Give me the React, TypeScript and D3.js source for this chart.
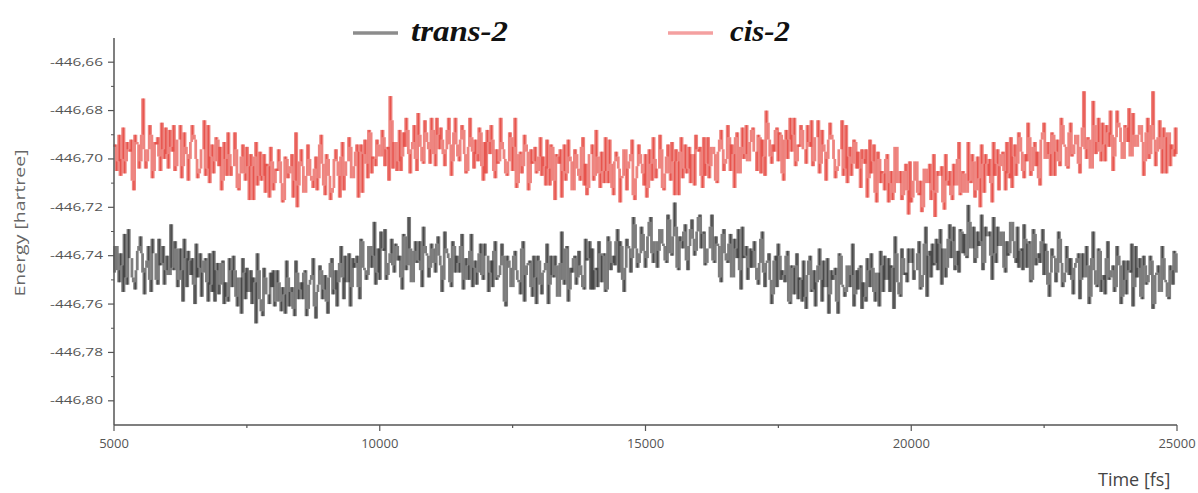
import React from 'react';
import * as d3 from 'd3';

// MD trajectory, energy sampled every 25 fs from 5000 to 25000 fs
const timeStart = 5000;
const timeEnd = 25000;
const timeStep = 25;

const seriesNames = ['trans-2', 'cis-2'];
const timeTicks = [5000, 10000, 15000, 20000, 25000];
const timeMinorTicks = [7500, 12500, 17500, 22500];
const energyTicks = [-446.8, -446.78, -446.76, -446.74, -446.72, -446.7, -446.68, -446.66];
const energyMinorTicks = [-446.79, -446.77, -446.75, -446.73, -446.71, -446.69, -446.67];

const cisEnergy = [
  -446.695, -446.694, -446.705, -446.701, -446.690, -446.707, -446.700, -446.687, -446.706, -446.701, -446.693, -446.696, -446.697, -446.692, -446.709, -446.713, -446.690, -446.693, -446.694, -446.704,
  -446.701, -446.690, -446.675, -446.696, -446.704, -446.701, -446.696, -446.686, -446.690, -446.708, -446.705, -446.693, -446.694, -446.691, -446.699, -446.705, -446.685, -446.696, -446.700, -446.687,
  -446.698, -446.704, -446.688, -446.695, -446.697, -446.686, -446.705, -446.703, -446.692, -446.692, -446.686, -446.708, -446.703, -446.689, -446.695, -446.698, -446.709, -446.700, -446.693, -446.686,
  -446.690, -446.692, -446.700, -446.708, -446.706, -446.704, -446.696, -446.696, -446.684, -446.707, -446.704, -446.686, -446.710, -446.699, -446.694, -446.706, -446.701, -446.691, -446.692, -446.703,
  -446.695, -446.713, -446.709, -446.693, -446.700, -446.707, -446.689, -446.698, -446.707, -446.703, -446.703, -446.689, -446.696, -446.712, -446.713, -446.706, -446.699, -446.694, -446.706, -446.709,
  -446.695, -446.703, -446.717, -446.698, -446.703, -446.717, -446.699, -446.693, -446.711, -446.707, -446.697, -446.709, -446.707, -446.698, -446.714, -446.702, -446.703, -446.716, -446.695, -446.701,
  -446.713, -446.710, -446.704, -446.705, -446.696, -446.701, -446.710, -446.718, -446.717, -446.699, -446.700, -446.708, -446.706, -446.703, -446.698, -446.716, -446.709, -446.689, -446.720, -446.711,
  -446.701, -446.696, -446.703, -446.714, -446.714, -446.707, -446.694, -446.700, -446.707, -446.709, -446.712, -446.704, -446.699, -446.713, -446.708, -446.694, -446.690, -446.702, -446.711, -446.715,
  -446.698, -446.700, -446.707, -446.717, -446.714, -446.712, -446.700, -446.696, -446.701, -446.707, -446.716, -446.699, -446.693, -446.713, -446.707, -446.701, -446.701, -446.691, -446.695, -446.708,
  -446.708, -446.703, -446.697, -446.694, -446.716, -446.697, -446.694, -446.714, -446.698, -446.692, -446.702, -446.708, -446.688, -446.689, -446.706, -446.699, -446.700, -446.703, -446.692, -446.694,
  -446.699, -446.699, -446.688, -446.691, -446.703, -446.696, -446.695, -446.709, -446.674, -446.684, -446.704, -446.693, -446.693, -446.705, -446.701, -446.688, -446.705, -446.699, -446.689, -446.695,
  -446.683, -446.688, -446.698, -446.706, -446.696, -446.693, -446.686, -446.700, -446.705, -446.681, -446.690, -446.695, -446.701, -446.702, -446.684, -446.689, -446.693, -446.696, -446.702, -446.683,
  -446.688, -446.698, -446.703, -446.683, -446.690, -446.696, -446.687, -446.692, -446.698, -446.703, -446.696, -446.688, -446.683, -446.694, -446.707, -446.701, -446.689, -446.683, -446.694, -446.699,
  -446.701, -446.692, -446.686, -446.688, -446.698, -446.706, -446.705, -446.695, -446.683, -446.691, -446.697, -446.704, -446.692, -446.698, -446.701, -446.687, -446.689, -446.703, -446.709, -446.693,
  -446.706, -446.688, -446.693, -446.698, -446.686, -446.692, -446.705, -446.708, -446.696, -446.702, -446.701, -446.683, -446.693, -446.696, -446.700, -446.706, -446.707, -446.701, -446.689, -446.691,
  -446.705, -446.695, -446.683, -446.712, -446.710, -446.698, -446.697, -446.706, -446.703, -446.690, -446.694, -446.697, -446.713, -446.710, -446.696, -446.702, -446.701, -446.695, -446.706, -446.705,
  -446.699, -446.691, -446.707, -446.699, -446.703, -446.711, -446.692, -446.704, -446.711, -446.694, -446.695, -446.709, -446.717, -446.698, -446.699, -446.702, -446.696, -446.716, -446.705, -446.694,
  -446.709, -446.706, -446.692, -446.699, -446.701, -446.713, -446.713, -446.696, -446.698, -446.704, -446.707, -446.709, -446.695, -446.691, -446.711, -446.702, -446.715, -446.712, -446.698, -446.698,
  -446.694, -446.709, -446.707, -446.688, -446.699, -446.706, -446.712, -446.697, -446.705, -446.710, -446.691, -446.705, -446.710, -446.692, -446.702, -446.712, -446.715, -446.701, -446.697, -446.699,
  -446.704, -446.718, -446.708, -446.707, -446.696, -446.696, -446.713, -446.704, -446.701, -446.698, -446.692, -446.715, -446.717, -446.708, -446.703, -446.694, -446.698, -446.702, -446.706, -446.711,
  -446.698, -446.716, -446.712, -446.696, -446.702, -446.709, -446.691, -446.700, -446.708, -446.704, -446.704, -446.690, -446.696, -446.712, -446.713, -446.706, -446.699, -446.694, -446.706, -446.709,
  -446.693, -446.701, -446.715, -446.696, -446.701, -446.715, -446.697, -446.691, -446.708, -446.704, -446.694, -446.706, -446.704, -446.695, -446.710, -446.698, -446.698, -446.711, -446.690, -446.696,
  -446.697, -446.695, -446.707, -446.712, -446.691, -446.707, -446.702, -446.691, -446.708, -446.703, -446.695, -446.695, -446.698, -446.709, -446.710, -446.697, -446.692, -446.688, -446.696, -446.705,
  -446.702, -446.700, -446.686, -446.691, -446.705, -446.694, -446.698, -446.712, -446.691, -446.689, -446.706, -446.706, -446.695, -446.687, -446.700, -446.698, -446.686, -446.701, -446.701, -446.693,
  -446.688, -446.687, -446.697, -446.697, -446.705, -446.690, -446.691, -446.706, -446.692, -446.699, -446.707, -446.680, -446.685, -446.692, -446.699, -446.702, -446.694, -446.697, -446.688, -446.687,
  -446.701, -446.689, -446.690, -446.706, -446.709, -446.692, -446.688, -446.700, -446.692, -446.683, -446.697, -446.690, -446.683, -446.703, -446.701, -446.694, -446.695, -446.686, -446.688, -446.696,
  -446.696, -446.702, -446.686, -446.693, -446.695, -446.684, -446.703, -446.701, -446.691, -446.691, -446.684, -446.706, -446.702, -446.688, -446.694, -446.697, -446.709, -446.700, -446.692, -446.685,
  -446.690, -446.692, -446.700, -446.708, -446.705, -446.703, -446.696, -446.696, -446.684, -446.707, -446.704, -446.686, -446.710, -446.699, -446.695, -446.707, -446.702, -446.692, -446.693, -446.704,
  -446.697, -446.704, -446.712, -446.696, -446.700, -446.702, -446.696, -446.716, -446.708, -446.692, -446.706, -446.701, -446.694, -446.714, -446.718, -446.697, -446.700, -446.710, -446.705, -446.706,
  -446.713, -446.700, -446.698, -446.718, -446.710, -446.705, -446.717, -446.714, -446.695, -446.695, -446.710, -446.710, -446.705, -446.717, -446.715, -446.705, -446.702, -446.713, -446.723, -446.701,
  -446.718, -446.716, -446.709, -446.701, -446.701, -446.714, -446.715, -446.709, -446.722, -446.720, -446.704, -446.704, -446.710, -446.710, -446.702, -446.717, -446.713, -446.698, -446.724, -446.714,
  -446.705, -446.707, -446.707, -446.703, -446.718, -446.721, -446.698, -446.709, -446.711, -446.705, -446.715, -446.717, -446.702, -446.711, -446.711, -446.700, -446.693, -446.715, -446.714, -446.705,
  -446.706, -446.714, -446.714, -446.693, -446.709, -446.710, -446.698, -446.701, -446.716, -446.713, -446.699, -446.708, -446.720, -446.694, -446.702, -446.714, -446.698, -446.702, -446.707, -446.700,
  -446.710, -446.718, -446.693, -446.707, -446.702, -446.696, -446.713, -446.703, -446.698, -446.697, -446.705, -446.713, -446.693, -446.706, -446.708, -446.691, -446.712, -446.699, -446.694, -446.707,
  -446.702, -446.689, -446.691, -446.697, -446.705, -446.708, -446.698, -446.701, -446.685, -446.691, -446.707, -446.705, -446.695, -446.693, -446.703, -446.697, -446.708, -446.711, -446.692, -446.689,
  -446.685, -446.700, -446.700, -446.693, -446.698, -446.707, -446.689, -446.690, -446.707, -446.697, -446.692, -446.701, -446.703, -446.683, -446.686, -446.694, -446.695, -446.703, -446.704, -446.689,
  -446.685, -446.699, -446.698, -446.694, -446.690, -446.690, -446.702, -446.706, -446.695, -446.687, -446.672, -446.696, -446.700, -446.691, -446.692, -446.704, -446.704, -446.676, -446.686, -446.698,
  -446.693, -446.683, -446.697, -446.701, -446.685, -446.694, -446.701, -446.686, -446.689, -446.695, -446.680, -446.690, -446.705, -446.699, -446.691, -446.680, -446.685, -446.687, -446.693, -446.700,
  -446.700, -446.686, -446.687, -446.693, -446.679, -446.699, -446.699, -446.681, -446.690, -446.695, -446.695, -446.690, -446.686, -446.686, -446.693, -446.707, -446.701, -446.689, -446.683, -446.700,
  -446.698, -446.686, -446.672, -446.692, -446.703, -446.697, -446.691, -446.684, -446.696, -446.706, -446.687, -446.691, -446.706, -446.689, -446.689, -446.703, -446.694, -446.696, -446.699, -446.687,
  -446.698,
];

const transEnergy = [
  -446.747, -446.736, -446.736, -446.746, -446.751, -446.739, -446.744, -446.755, -446.731, -446.749, -446.752, -446.729, -446.741, -446.741, -446.749, -446.751, -446.754, -446.746, -446.738, -446.736,
  -446.732, -446.739, -446.747, -446.756, -446.745, -446.742, -446.736, -446.750, -446.755, -446.733, -446.739, -446.739, -446.750, -446.752, -446.733, -446.744, -446.743, -446.736, -446.752, -446.746,
  -446.740, -446.748, -446.748, -446.727, -446.745, -446.746, -446.734, -446.737, -446.753, -446.750, -446.737, -446.746, -446.759, -446.733, -446.741, -446.753, -446.738, -446.742, -446.748, -446.741,
  -446.752, -446.760, -446.735, -446.749, -446.745, -446.739, -446.757, -446.747, -446.742, -446.741, -446.751, -446.759, -446.739, -446.752, -446.755, -446.738, -446.759, -446.746, -446.743, -446.756,
  -446.752, -446.743, -446.742, -446.760, -446.751, -446.757, -446.759, -446.741, -446.746, -446.753, -446.740, -446.746, -446.757, -446.761, -446.749, -446.749, -446.764, -446.741, -446.747, -446.758,
  -446.745, -446.755, -446.755, -446.746, -446.760, -446.749, -446.751, -446.768, -446.739, -446.746, -446.758, -446.763, -446.765, -446.745, -446.749, -446.756, -446.756, -446.760, -446.747, -446.753,
  -446.746, -446.761, -446.759, -446.746, -446.751, -446.759, -446.763, -446.753, -446.756, -446.764, -446.742, -446.749, -446.761, -446.755, -446.753, -446.762, -446.765, -446.742, -446.747, -446.758,
  -446.754, -446.751, -446.758, -446.747, -446.746, -446.765, -446.762, -446.752, -446.750, -446.748, -446.741, -446.761, -446.766, -446.755, -446.752, -446.744, -446.746, -446.758, -446.754, -446.748,
  -446.759, -446.764, -446.749, -446.743, -446.741, -446.756, -446.754, -446.746, -446.761, -446.751, -446.743, -446.736, -446.749, -446.758, -446.740, -446.751, -446.751, -446.739, -446.761, -446.753,
  -446.741, -446.745, -446.743, -446.740, -446.753, -446.758, -446.733, -446.734, -446.745, -446.746, -446.750, -446.748, -446.736, -446.736, -446.745, -446.740, -446.726, -446.752, -446.747, -446.737,
  -446.750, -446.730, -446.737, -446.738, -446.729, -446.750, -446.748, -446.743, -446.739, -446.733, -446.744, -446.747, -446.735, -446.736, -446.742, -446.740, -446.749, -446.754, -446.731, -446.732,
  -446.746, -446.744, -446.724, -446.737, -446.751, -446.751, -446.738, -446.734, -446.743, -446.742, -446.734, -446.746, -446.753, -446.728, -446.736, -446.739, -446.740, -446.749, -446.745, -446.735,
  -446.737, -446.743, -446.747, -446.735, -446.732, -446.740, -446.744, -446.755, -446.750, -446.730, -446.737, -446.739, -446.741, -446.751, -446.753, -446.734, -446.736, -446.747, -446.740, -446.743,
  -446.747, -446.736, -446.731, -446.754, -446.750, -446.741, -446.744, -446.750, -446.738, -446.731, -446.753, -446.745, -446.742, -446.752, -446.747, -446.739, -446.735, -446.748, -446.750, -446.735,
  -446.740, -446.740, -446.755, -446.747, -446.742, -446.753, -446.738, -446.734, -446.750, -446.749, -446.748, -446.744, -446.735, -446.740, -446.759, -446.761, -446.740, -446.742, -446.745, -446.753,
  -446.753, -446.740, -446.738, -446.746, -446.750, -446.751, -446.756, -446.737, -446.734, -446.759, -446.748, -446.744, -446.743, -446.742, -446.753, -446.757, -446.740, -446.749, -446.760, -446.740,
  -446.742, -446.752, -446.756, -446.747, -446.746, -446.743, -446.735, -446.760, -446.752, -446.740, -446.748, -446.749, -446.740, -446.744, -446.757, -446.757, -446.743, -446.730, -446.750, -446.752,
  -446.737, -446.736, -446.759, -446.754, -446.745, -446.747, -446.741, -446.740, -446.752, -446.749, -446.738, -446.744, -446.748, -446.753, -446.754, -446.733, -446.742, -446.741, -446.734, -446.754,
  -446.737, -446.754, -446.746, -446.745, -446.753, -446.734, -446.739, -446.751, -446.740, -446.739, -446.755, -446.754, -446.732, -446.734, -446.746, -446.743, -446.740, -446.744, -446.734, -446.729,
  -446.747, -446.734, -446.736, -446.750, -446.755, -446.745, -446.733, -446.736, -446.737, -446.747, -446.741, -446.724, -446.727, -446.737, -446.745, -446.743, -446.739, -446.728, -446.731, -446.738,
  -446.745, -446.741, -446.732, -446.726, -446.724, -446.739, -446.743, -446.734, -446.734, -446.745, -446.738, -446.729, -446.729, -446.735, -446.736, -446.742, -446.743, -446.723, -446.725, -446.739,
  -446.740, -446.732, -446.718, -446.728, -446.745, -446.746, -446.732, -446.734, -446.737, -446.730, -446.727, -446.742, -446.746, -446.736, -446.729, -446.725, -446.733, -446.740, -446.738, -446.730,
  -446.724, -446.723, -446.737, -446.731, -446.730, -446.744, -446.743, -446.737, -446.737, -446.728, -446.723, -446.742, -446.743, -446.732, -446.735, -446.736, -446.749, -446.751, -446.731, -446.729,
  -446.739, -446.742, -446.743, -446.735, -446.731, -446.749, -446.749, -446.733, -446.737, -446.741, -446.729, -446.746, -446.754, -446.728, -446.741, -446.740, -446.736, -446.750, -446.745, -446.737,
  -446.745, -446.738, -446.734, -446.745, -446.750, -446.752, -446.743, -446.733, -446.730, -446.747, -446.753, -446.743, -446.742, -446.739, -446.750, -446.760, -446.756, -446.742, -446.740, -446.753,
  -446.735, -446.740, -446.750, -446.746, -446.748, -446.751, -446.740, -446.738, -446.759, -446.760, -446.744, -446.745, -446.756, -446.744, -446.739, -446.758, -446.749, -446.750, -446.759, -446.742,
  -446.757, -446.762, -446.748, -446.742, -446.740, -446.755, -446.754, -446.746, -446.761, -446.751, -446.744, -446.737, -446.750, -446.759, -446.742, -446.753, -446.753, -446.741, -446.764, -446.756,
  -446.746, -446.750, -446.748, -446.745, -446.759, -446.764, -446.739, -446.740, -446.752, -446.753, -446.757, -446.755, -446.744, -446.744, -446.753, -446.748, -446.735, -446.761, -446.756, -446.746,
  -446.754, -446.745, -446.744, -446.762, -446.751, -446.757, -446.759, -446.741, -446.746, -446.753, -446.739, -446.745, -446.755, -446.759, -446.747, -446.747, -446.761, -446.738, -446.744, -446.755,
  -446.740, -446.750, -446.750, -446.741, -446.755, -446.744, -446.745, -446.762, -446.732, -446.739, -446.751, -446.756, -446.757, -446.737, -446.741, -446.748, -446.747, -446.751, -446.737, -446.743,
  -446.743, -446.737, -446.750, -446.746, -446.746, -446.739, -446.734, -446.754, -446.753, -446.748, -446.735, -446.728, -446.757, -446.740, -446.738, -446.749, -446.735, -446.744, -446.743, -446.733,
  -446.746, -446.735, -446.729, -446.752, -446.737, -446.737, -446.749, -446.745, -446.733, -446.727, -446.741, -446.734, -446.728, -446.746, -446.744, -446.738, -446.747, -446.729, -446.730, -446.739,
  -446.731, -446.740, -446.741, -446.719, -446.726, -446.737, -446.737, -446.728, -446.743, -446.741, -446.730, -446.736, -446.734, -446.723, -446.746, -446.743, -446.728, -446.732, -446.732, -446.730,
  -446.740, -446.750, -446.724, -446.739, -446.743, -446.728, -446.736, -446.736, -446.730, -446.730, -446.745, -446.747, -446.734, -446.740, -446.739, -446.726, -446.726, -446.734, -446.741, -446.743,
  -446.728, -446.745, -446.738, -446.737, -446.746, -446.727, -446.733, -446.745, -446.735, -446.734, -446.751, -446.750, -446.729, -446.731, -446.744, -446.741, -446.739, -446.743, -446.734, -446.729,
  -446.748, -446.735, -446.738, -446.752, -446.757, -446.747, -446.737, -446.740, -446.741, -446.751, -446.747, -446.730, -446.733, -446.743, -446.753, -446.751, -446.747, -446.736, -446.741, -446.748,
  -446.741, -446.750, -446.756, -446.745, -446.743, -446.741, -446.739, -446.758, -446.750, -446.739, -446.749, -446.749, -446.736, -446.744, -446.760, -446.757, -446.741, -446.730, -446.746, -446.752,
  -446.753, -446.737, -446.738, -446.755, -446.750, -446.748, -446.756, -446.741, -446.734, -446.750, -446.749, -446.746, -446.744, -446.755, -446.753, -446.736, -446.740, -446.744, -446.760, -446.757,
  -446.742, -446.750, -446.756, -446.742, -446.746, -446.747, -446.735, -446.761, -446.753, -446.736, -446.749, -446.745, -446.741, -446.757, -446.758, -446.740, -446.744, -446.752, -446.751, -446.748,
  -446.740, -446.742, -446.762, -446.760, -446.748, -446.747, -446.744, -446.755, -446.755, -446.736, -446.741, -446.750, -446.751, -446.757, -446.758, -446.744, -446.746, -446.752, -446.738, -446.739,
  -446.747,
];

const time = d3.range(timeStart, timeEnd + 1, timeStep);

const width = 1198;
const height = 493;
const margin = { top: 38, right: 21, bottom: 68, left: 114 };

const deLocale = d3.formatLocale({
  decimal: ',',
  thousands: '.',
  grouping: [3],
  currency: ['', ''],
  minus: '-',
});
const fmtEnergy = deLocale.format('.2f');

export default function App() {
  const x = d3.scaleLinear().domain([timeStart, timeEnd]).range([margin.left, width - margin.right]);
  const y = d3.scaleLinear().domain([-446.81, -446.65]).range([height - margin.bottom, margin.top]);

  // the trace oscillates much faster than a pixel, so every step between two
  // samples is drawn as a vertical stroke (like a dense MD trace renders)
  const steps = (vals: number[]) =>
    d3.pairs(vals.map((v, i) => [x(time[i]), y(v)] as [number, number])).map(([a, b]) => ({
      xm: (a[0] + b[0]) / 2,
      ya: a[1],
      yb: b[1],
    }));

  const x0 = margin.left;
  const y0 = height - margin.bottom;
  const axisColor = '#555';

  return (
    <svg
      width={width}
      height={height}
      style={{ position: 'absolute', left: 0, top: 0, background: '#fff' }}
    >
      <g stroke="#e3332b" strokeWidth={2.8} strokeOpacity={0.6}>
        {steps(cisEnergy).map((s, i) => (
          <line key={i} x1={s.xm} y1={s.ya} x2={s.xm} y2={s.yb} />
        ))}
      </g>
      <g stroke="#262626" strokeWidth={2.8} strokeOpacity={0.6}>
        {steps(transEnergy).map((s, i) => (
          <line key={i} x1={s.xm} y1={s.ya} x2={s.xm} y2={s.yb} />
        ))}
      </g>

      {/* y axis */}
      <line x1={x0} x2={x0} y1={margin.top} y2={y0} stroke={axisColor} strokeWidth={1.5} />
      {energyTicks.map((t) => (
        <g key={t}>
          <line x1={x0 - 6} x2={x0} y1={y(t)} y2={y(t)} stroke={axisColor} strokeWidth={1.2} />
          <text
            x={103}
            y={y(t) + 3.5}
            textAnchor="end"
            fontFamily="'Open Sans', sans-serif"
            fontSize={10}
            fill="#555"
            textLength={53}
            lengthAdjust="spacingAndGlyphs"
          >
            {fmtEnergy(t)}
          </text>
        </g>
      ))}
      {energyMinorTicks.map((t) => (
        <line key={t} x1={x0 - 3} x2={x0} y1={y(t)} y2={y(t)} stroke={axisColor} strokeWidth={1} />
      ))}

      {/* x axis */}
      <line x1={x0} x2={width - margin.right} y1={y0} y2={y0} stroke={axisColor} strokeWidth={1.5} />
      {timeTicks.map((t) => (
        <g key={t}>
          <line x1={x(t)} x2={x(t)} y1={y0} y2={y0 + 6} stroke={axisColor} strokeWidth={1.2} />
          <text
            x={x(t)}
            y={448}
            textAnchor="middle"
            fontFamily="'Open Sans', sans-serif"
            fontSize={13}
            fill="#555"
          >
            {t}
          </text>
        </g>
      ))}
      {timeMinorTicks.map((t) => (
        <line key={t} x1={x(t)} x2={x(t)} y1={y0} y2={y0 + 3} stroke={axisColor} strokeWidth={1.2} />
      ))}

      {/* axis titles */}
      <text
        transform="translate(25,223) rotate(-90)"
        textAnchor="middle"
        fontFamily="'Open Sans', sans-serif"
        fontSize={14}
        fill="#666"
        textLength={147}
        lengthAdjust="spacingAndGlyphs"
      >
        Energy [hartree]
      </text>
      <text x={1098} y={486} fontFamily="'Open Sans', sans-serif" fontSize={18} fill="#444">
        Time [fs]
      </text>

      {/* legend */}
      <line x1={353} x2={398} y1={33} y2={33} stroke="#8c8c8c" strokeWidth={3.5} />
      <text
        x={411}
        y={41}
        fontFamily="'Liberation Serif', 'Times New Roman', serif"
        fontWeight="bold"
        fontStyle="italic"
        fontSize={30}
        fill="#111"
        textLength={97}
        lengthAdjust="spacingAndGlyphs"
      >
        {seriesNames[0]}
      </text>
      <line x1={668} x2={713} y1={33} y2={33} stroke="#f4a0a0" strokeWidth={3.5} />
      <text
        x={730}
        y={41}
        fontFamily="'Liberation Serif', 'Times New Roman', serif"
        fontWeight="bold"
        fontStyle="italic"
        fontSize={30}
        fill="#111"
        textLength={60}
        lengthAdjust="spacingAndGlyphs"
      >
        {seriesNames[1]}
      </text>
    </svg>
  );
}
